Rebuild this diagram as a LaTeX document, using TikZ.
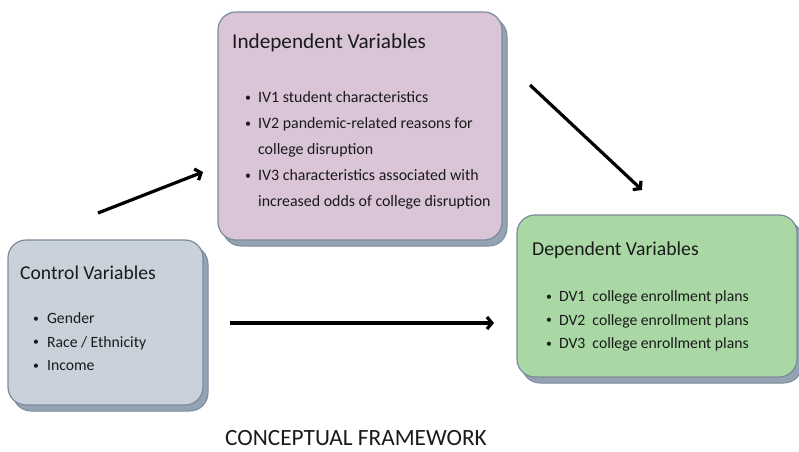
\documentclass[tikz,border=0pt]{standalone}
\usepackage{fontspec}
\usepackage{graphicx}
\setmainfont{Carlito}
\usetikzlibrary{shadows,arrows.meta}
\definecolor{ivfill}{HTML}{D9C4D8}
\definecolor{cvfill}{HTML}{C9D1DB}
\definecolor{dvfill}{HTML}{A9D8A5}
\definecolor{boxline}{HTML}{7C8B9A}
\definecolor{shadowfill}{HTML}{94A3B4}
\definecolor{txt}{HTML}{1A1A1A}
\tikzset{
  varbox/.style={draw=boxline, line width=1.2pt, rounded corners=18pt, inner sep=0pt,
    copy shadow={shadow xshift=5pt, shadow yshift=-6pt, fill=shadowfill, draw=boxline, line width=1pt}},
  vtitle/.style={anchor=base west, inner sep=0pt, text=txt, font=\fontsize{20}{24}\selectfont},
  vlist/.style={anchor=north west, inner sep=0pt, text=txt, align=left},
  flow/.style={line width=3.2pt, -{Straight Barb[length=5pt,width=12pt,line width=3.2pt]}},
}
\newcommand{\bul}{\raisebox{0.08em}{\scalebox{0.75}{\textbullet}}}
\begin{document}
\begin{tikzpicture}[x=1pt,y=-1pt]
\useasboundingbox (0,0) rectangle (799,451);
\clip (0,0) rectangle (799,451);
% boxes
\node[varbox, fill=ivfill, minimum width=284pt, minimum height=228pt] (iv) at (360,126) {};
\node[varbox, fill=cvfill, minimum width=195pt, minimum height=165pt] (cv) at (105.5,322.5) {};
\node[varbox, fill=dvfill, minimum width=280pt, minimum height=162pt] (dv) at (657,296) {};
% titles
\node[vtitle, font=\fontsize{21.2}{24}\selectfont] (ivt) at (232,48) {Independent Variables};
\node[vtitle, font=\fontsize{19.6}{24}\selectfont] (cvt) at (20,279) {Control Variables};
\node[vtitle, font=\fontsize{19.7}{24}\selectfont] (dvt) at (532,255) {Dependent Variables};
% lists
\node[vlist, font=\fontsize{15.9}{26}\selectfont] (ivl) at (245,84.5) {%
\begin{tabular}{@{}l@{\hspace{7pt}}l@{}}
\bul & IV1 student characteristics\\
\bul & IV2 pandemic-related reasons for\\
 & college disruption\\
\bul & IV3 characteristics associated with\\
 & increased odds of college disruption
\end{tabular}};
\node[vlist, font=\fontsize{15.7}{23.5}\selectfont] (cvl) at (33,307) {%
\begin{tabular}{@{}l@{\hspace{8pt}}l@{}}
\bul & Gender\\
\bul & Race / Ethnicity\\
\bul & Income
\end{tabular}};
\node[vlist, font=\fontsize{15.7}{23.5}\selectfont] (dvl) at (546,285) {%
\begin{tabular}{@{}l@{\hspace{7pt}}l@{}}
\bul & DV1\ \ college enrollment plans\\
\bul & DV2\ \ college enrollment plans\\
\bul & DV3\ \ college enrollment plans
\end{tabular}};
% caption
\node[anchor=base, inner sep=0pt, text=txt, font=\fontsize{23.3}{28}\selectfont] (cap) at (356,445) {CONCEPTUAL FRAMEWORK};
% arrows
\coordinate (a1s) at (98,213);
\coordinate (a1e) at (203,172);
\coordinate (a2s) at (530,85);
\coordinate (a2e) at (642,190);
\coordinate (a3s) at (230,323);
\coordinate (a3e) at (494,323);
\draw[flow] (a1s) -- (a1e);
\draw[flow] (a2s) -- (a2e);
\draw[flow] (a3s) -- (a3e);
\end{tikzpicture}
\end{document}
